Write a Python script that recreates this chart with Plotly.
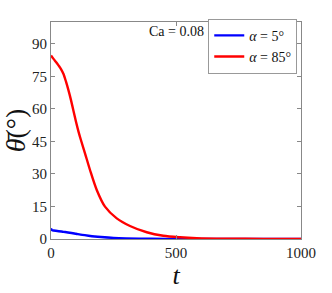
import plotly.graph_objects as go

t_red = [0, 10, 20, 30, 40, 50, 60, 70, 80, 90, 100, 110, 120, 136, 156, 183, 216, 263, 316, 383, 449,
         516, 583, 700, 850, 1000]
theta_red = [84.6, 83, 81.6, 80, 78.3, 76, 72.5, 68.5, 64, 59, 54, 49.5, 45.5, 39.5, 31.8, 22.6, 14.9, 9.5,
             6.0, 3.1, 1.5, 0.8, 0.4, 0.15, 0.05, 0.02]

t_blue = [0, 3, 10, 25, 50, 75, 100, 125, 150, 175, 200, 250, 300, 400, 500, 700, 1000]
theta_blue = [4.9, 4.1, 3.9, 3.7, 3.3, 2.9, 2.4, 1.9, 1.5, 1.15, 0.9, 0.5, 0.3, 0.1, 0.05, 0.02, 0.0]

labels = ["<i>α</i> = 5°", "<i>α</i> = 85°"]
y_ticks = [0, 15, 30, 45, 60, 75, 90]
x_ticks = [0, 500, 1000]

FONT = "Liberation Serif"

fig = go.Figure()
fig.add_trace(go.Scatter(x=t_blue, y=theta_blue, mode="lines", name=labels[0],
                         line=dict(color="#0000ff", width=2.4, shape="spline", smoothing=0.8)))
fig.add_trace(go.Scatter(x=t_red, y=theta_red, mode="lines", name=labels[1],
                         line=dict(color="#ff0000", width=2.4, shape="spline", smoothing=0.8)))

axis_common = dict(showgrid=False, zeroline=False, showline=True, linecolor="#888888", linewidth=1,
                   ticks="inside", ticklen=4, tickcolor="#888888", mirror="ticks", automargin=False,
                   tickfont=dict(family=FONT, size=15, color="#222222"))

fig.update_xaxes(range=[0, 1000], tickvals=x_ticks, ticktext=[str(v) for v in x_ticks],
                 title=dict(text="<i>t</i>", font=dict(family=FONT, size=26, color="#111111"), standoff=0),
                 **axis_common)
fig.update_yaxes(range=[0, 100], tickvals=y_ticks, ticktext=[str(v) for v in y_ticks],
                 title=dict(text="<i>θ̄</i>(°)", font=dict(family=FONT, size=28, color="#111111"), standoff=2),
                 **axis_common)

fig.add_annotation(x=0.5, y=0.955, xref="paper", yref="paper", text="Ca = 0.08", showarrow=False,
                   xanchor="center", yanchor="middle", font=dict(family=FONT, size=14, color="#111111"))

fig.update_layout(
    width=332, height=293,
    margin=dict(l=51, r=31, t=22, b=54),
    plot_bgcolor="white", paper_bgcolor="white",
    showlegend=True,
    legend=dict(x=0.985, y=1.015, xanchor="right", yanchor="top",
                bgcolor="white", bordercolor="#999999", borderwidth=1,
                font=dict(family=FONT, size=14, color="#111111"),
                itemwidth=30, tracegroupgap=0),
)

fig.write_html("out.html", config={"displayModeBar": False},
               post_script="document.body.style.margin='0';")
